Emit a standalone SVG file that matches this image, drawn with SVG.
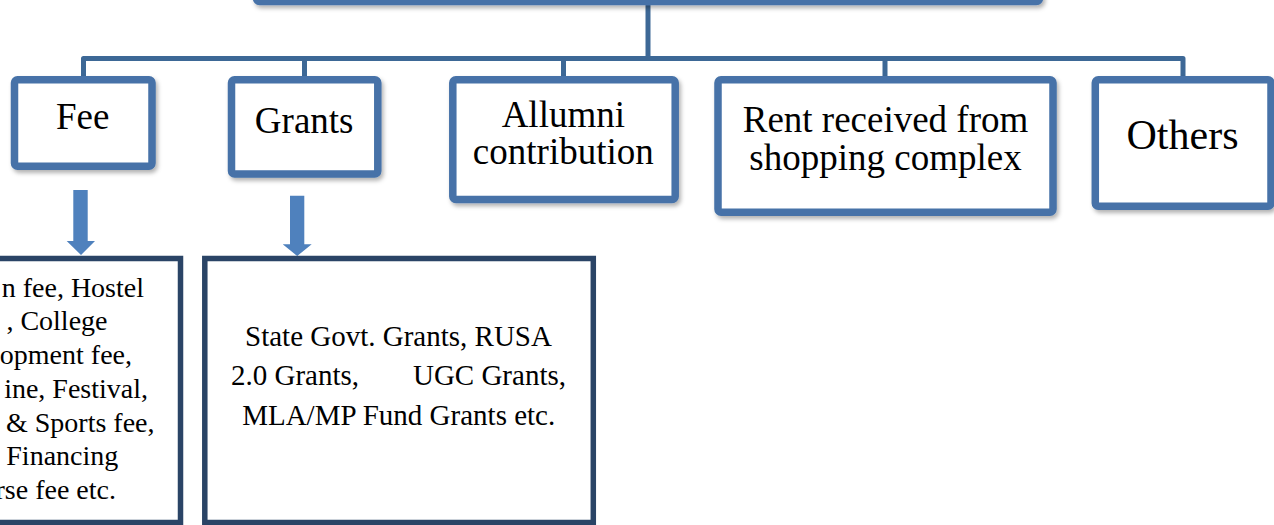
<svg xmlns="http://www.w3.org/2000/svg" width="1274" height="525" viewBox="0 0 1274 525">
<defs>
<filter id="sh" x="-10%" y="-10%" width="130%" height="140%">
<feDropShadow dx="2" dy="3" stdDeviation="2" flood-color="#000" flood-opacity="0.3"/>
</filter>
<style>
.box{fill:#fff;stroke:#4672a8;stroke-width:7.5;filter:url(#sh)}
.dbox{fill:#fff;stroke:#2a4466;stroke-width:5.5}
.conn{fill:none;stroke:#3d6896;stroke-width:5;stroke-linejoin:round}
.arr{fill:#4f81bd}
.t{font-family:"Liberation Serif","Times New Roman",serif;fill:#000}
.l{font-size:37px;text-anchor:middle}
.o{font-size:42px;text-anchor:middle}
.g{font-size:29px}
.f{font-size:28px;text-anchor:end}
</style>
</defs>
<rect width="1274" height="525" fill="#fff"/>
<g id="connectors">
<path class="conn" d="M648 3V58.5"/>
<path class="conn" d="M83.5 78V58.5H1183V78"/>
<path class="conn" d="M304.5 58.5V78M563.5 58.5V78M885 58.5V78"/>
<polygon class="arr" points="73.3,190 87.7,190 87.7,241 95,241 81,255 66.7,241 73.3,241"/>
<polygon class="arr" points="290,195.7 304.3,195.7 304.3,244.3 311.7,244.3 297.2,256 282.7,244.3 290,244.3"/>
</g>
<g id="top">
<rect class="box" x="256.5" y="-60" width="783" height="61.5" rx="3"/>
</g>
<g id="fee">
<rect class="box" x="14.5" y="79.7" width="137.5" height="86.6" rx="3"/>
<text class="t l" x="82.7" y="129.3">Fee</text>
</g>
<g id="grants">
<rect class="box" x="231.5" y="79.8" width="146.3" height="94.2" rx="3"/>
<text class="t l" x="304.2" y="133.3">Grants</text>
</g>
<g id="alumni">
<rect class="box" x="452.8" y="79.8" width="222.4" height="119.7" rx="3"/>
<text class="t l" x="563.3" y="126.7">Allumni</text>
<text class="t l" x="563.3" y="164.3">contribution</text>
</g>
<g id="rent">
<rect class="box" x="718" y="79.7" width="335" height="132.6" rx="3"/>
<text class="t l" x="885.5" y="131.7">Rent received from</text>
<text class="t l" x="885.5" y="170">shopping complex</text>
</g>
<g id="others">
<rect class="box" x="1095.3" y="79.7" width="175.7" height="126.6" rx="3"/>
<text class="t o" x="1182.5" y="149">Others</text>
</g>
<g id="fee-detail">
<rect class="dbox" x="-100" y="258.5" width="280.5" height="264"/>
<text class="t f" x="144" y="296.5">n fee, Hostel</text>
<text class="t f" x="107.5" y="330.3">, College</text>
<text class="t f" x="132" y="364">opment fee,</text>
<text class="t f" x="148" y="397.8">ine, Festival,</text>
<text class="t f" x="154.5" y="431.6">&amp; Sports fee,</text>
<text class="t f" x="118.3" y="465.4">Financing</text>
<text class="t f" x="116" y="499.2">rse fee etc.</text>
</g>
<g id="grants-detail">
<rect class="dbox" x="204.8" y="258.5" width="388.5" height="264"/>
<text class="t g" x="398.5" y="345.7" text-anchor="middle">State Govt. Grants, RUSA</text>
<text class="t g" y="385"><tspan x="231">2.0 Grants,</tspan><tspan x="566" text-anchor="end">UGC Grants,</tspan></text>
<text class="t g" x="398.7" y="424.5" text-anchor="middle">MLA/MP Fund Grants etc.</text>
</g>
</svg>
